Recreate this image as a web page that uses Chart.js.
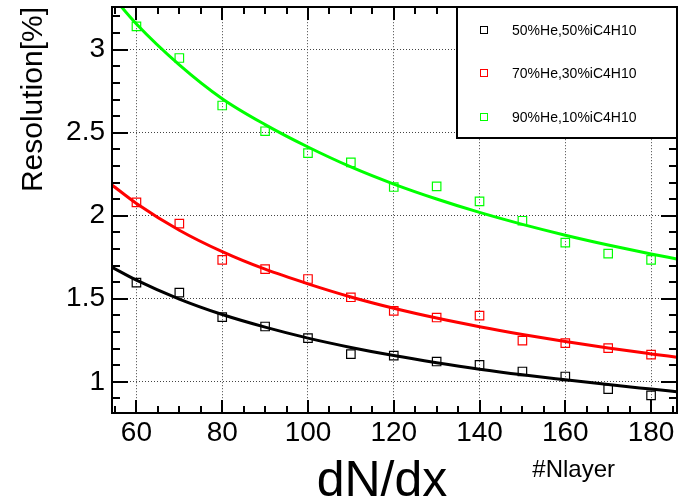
<!DOCTYPE html>
<html>
<head>
<meta charset="utf-8">
<script src="https://cdn.jsdelivr.net/npm/chart.js@4"></script>
<style>
  html, body { margin:0; padding:0; background:#fff; }
</style>
</head>
<body>
<canvas id="chart" width="684" height="500"></canvas>
<script>
// ---------- DATA ----------
const LAYERS = [60,70,80,90,100,110,120,130,140,150,160,170,180];
const RES_50 = [1.597,1.537,1.389,1.333,1.263,1.167,1.158,1.122,1.102,1.062,1.032,0.956,0.918];
const RES_70 = [2.081,1.952,1.734,1.678,1.619,1.509,1.427,1.387,1.399,1.248,1.233,1.203,1.164];
const RES_90 = [3.141,2.950,2.664,2.509,2.377,2.321,2.173,2.177,2.087,1.970,1.838,1.772,1.734];

// fit curves
const FIT_X  = [54.3,60,70,80,90,100,110,120,130,140,150,160,170,180,186];
const FIT_50 = [1.690,1.612,1.498,1.405,1.329,1.263,1.207,1.158,1.115,1.076,1.042,1.012,0.983,0.956,0.940];
const FIT_70 = [2.185,2.074,1.913,1.784,1.678,1.590,1.511,1.443,1.384,1.332,1.285,1.242,1.203,1.168,1.148];
const FIT_90 = [3.325,3.155,2.909,2.705,2.549,2.414,2.294,2.191,2.101,2.020,1.948,1.883,1.824,1.770,1.740];

const LABELS = ["50%He,50%iC4H10","70%He,30%iC4H10","90%He,10%iC4H10"];
const COLORS = ["#000000","#ff0000","#00ff00"];

const X_TICKS = [60,80,100,120,140,160,180];
const Y_TICKS = [1,1.5,2,2.5,3];
const X_MIN = 54.3, X_MAX = 186;
const Y_MIN = 0.812, Y_MAX = 3.256;

const FONT = "'Liberation Sans', Arial, Helvetica, sans-serif";

const toPts = (xs, ys) => xs.map((x,i)=>({x:x, y:ys[i]}));

const fitSet = (ys, i) => ({
  label: "fit " + i, data: toPts(FIT_X, ys), showLine:true, borderColor:COLORS[i],
  borderWidth:3, pointRadius:0, tension:0.4, cubicInterpolationMode:'monotone'
});
const ptSet = (ys, i) => ({
  label: LABELS[i], data: toPts(LAYERS, ys), showLine:false, borderColor:COLORS[i],
  backgroundColor:'rgba(0,0,0,0)', pointStyle:'rect', pointRadius:6, pointBorderWidth:1.2
});

// ---------- FRAME / TICKS / TITLES / LEGEND ----------
const rootStyle = {
  id: 'rootStyle',
  afterDraw(chart) {
    const {ctx, chartArea:a, scales} = chart;
    const xs = scales.x, ys = scales.y;
    const L = Math.round(a.left), R = Math.round(a.right);
    const T = Math.round(a.top), B = Math.round(a.bottom);
    ctx.save();
    ctx.fillStyle = '#000';
    // frame
    ctx.fillRect(L - 1, T - 1, R - L + 2, 2);
    ctx.fillRect(L - 1, B - 1, R - L + 2, 2);
    ctx.fillRect(L - 1, T - 1, 2, B - T + 2);
    ctx.fillRect(R - 1, T - 1, 2, B - T + 2);
    // inward ticks
    for (let v = 55; v <= 185; v += 5) {
      const px = Math.round(xs.getPixelForValue(v));
      const len = (v % 20 === 0) ? 13 : 7;
      ctx.fillRect(px - 1, B - len, 2, len);
      ctx.fillRect(px - 1, T, 2, len);
    }
    for (let k = 9; k <= 32; k++) {
      const py = Math.round(ys.getPixelForValue(k / 10));
      const len = (k % 5 === 0) ? 16 : 8;
      ctx.fillRect(L, py - 1, len, 2);
      ctx.fillRect(R - len, py - 1, len, 2);
    }

    // axis titles
    ctx.textBaseline = 'alphabetic';
    ctx.textAlign = 'center';
    ctx.font = "50px " + FONT;
    ctx.fillText("dN/dx", 382, 496);
    ctx.textAlign = 'right';
    ctx.font = "24px " + FONT;
    ctx.fillText("#Nlayer", 615, 477);

    ctx.save();
    ctx.translate(42, 7);
    ctx.rotate(-Math.PI / 2);
    ctx.textAlign = 'right';
    ctx.font = "30px " + FONT;
    ctx.fillText("Resolution[%]", 0, 0);
    ctx.restore();

    // legend box
    ctx.fillStyle = '#fff';
    ctx.fillRect(457, 7, 220, 131);
    ctx.fillStyle = '#000';
    ctx.fillRect(456, 6, 222, 2);
    ctx.fillRect(456, 137, 222, 2);
    ctx.fillRect(456, 6, 2, 133);
    ctx.fillRect(676, 6, 2, 133);
    const rows = [30, 73, 117];
    ctx.font = "14px " + FONT;
    ctx.textAlign = 'left';
    ctx.textBaseline = 'middle';
    LABELS.forEach((lab, i) => {
      ctx.strokeStyle = COLORS[i];
      ctx.lineWidth = 1;
      ctx.setLineDash([]);
      ctx.strokeRect(480.5, rows[i] - 3.5, 7, 7);
      ctx.fillStyle = '#000';
      ctx.fillText(lab, 512, rows[i] + 1);
    });
    ctx.restore();
  }
};

new Chart(document.getElementById("chart"), {
  type: 'scatter',
  data: {
    datasets: [
      ptSet(RES_50,0), ptSet(RES_70,1), ptSet(RES_90,2),
      fitSet(FIT_50,0), fitSet(FIT_70,1), fitSet(FIT_90,2)
    ]
  },
  options: {
    responsive: false,
    animation: false,
    layout: { padding: { top:7, right:6, left:0, bottom:0 } },
    plugins: { legend:{ display:false }, tooltip:{ enabled:false } },
    scales: {
      x: {
        type:'linear', min:X_MIN, max:X_MAX,
        afterBuildTicks: s => { s.ticks = X_TICKS.map(v=>({value:v})); },
        afterFit: s => { s.height = 87; s.paddingLeft = 0; s.paddingRight = 0; },
        ticks: { color:'#000', padding:3, font:{ family:FONT, size:28 }, callback: v => String(v) },
        grid: { color:'#444', lineWidth:1, drawTicks:false },
        border: { display:false, dash:[1,2] }
      },
      y: {
        type:'linear', min:Y_MIN, max:Y_MAX,
        afterBuildTicks: s => { s.ticks = Y_TICKS.map(v=>({value:v})); },
        afterFit: s => { s.width = 112; s.paddingTop = 0; s.paddingBottom = 0; },
        ticks: { color:'#000', padding:7, font:{ family:FONT, size:28 }, callback: v => String(v) },
        grid: { color:'#444', lineWidth:1, drawTicks:false },
        border: { display:false, dash:[1,2] }
      }
    }
  },
  plugins: [rootStyle]
});
</script>
</body>
</html>
